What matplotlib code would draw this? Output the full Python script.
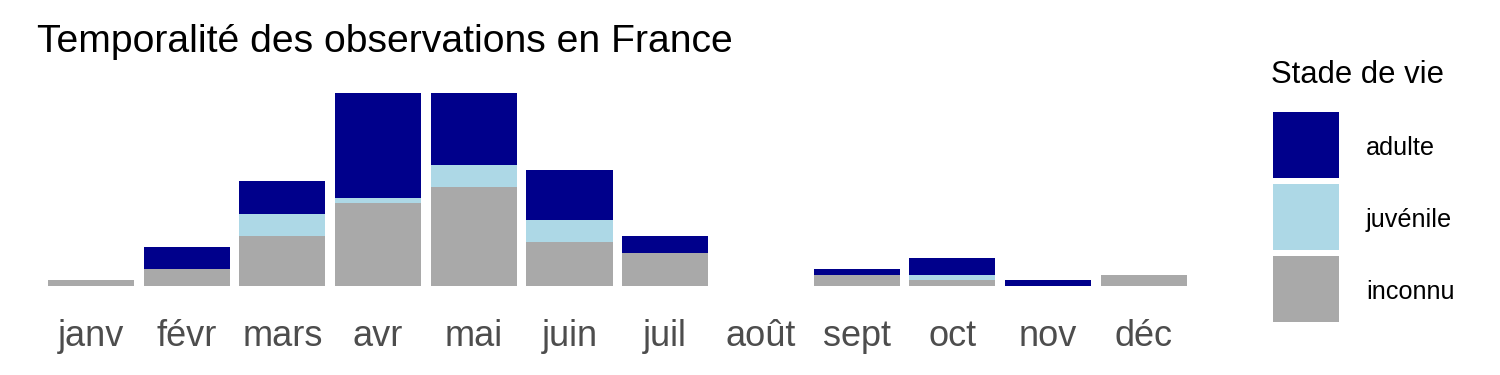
import matplotlib
matplotlib.use("Agg")
import matplotlib.pyplot as plt
from matplotlib.patches import Rectangle

plt.rcParams['font.family'] = ['Liberation Sans', 'DejaVu Sans']

months = ["janv", "févr", "mars", "avr", "mai", "juin",
          "juil", "août", "sept", "oct", "nov", "déc"]
inconnu = [1, 3, 9, 15, 18, 8, 6, 0, 2, 1, 0, 2]
juvenile = [0, 0, 4, 1, 4, 4, 0, 0, 0, 1, 0, 0]
adulte = [0, 4, 6, 19, 13, 9, 3, 0, 1, 3, 1, 0]

stades = ["adulte", "juvénile", "inconnu"]
colors = {"adulte": "#00008B", "juvénile": "#ADD8E6", "inconnu": "#A9A9A9"}

fig = plt.figure(figsize=(15, 3.75), dpi=100)
ax = fig.add_axes([33.6 / 1500, 1 - 286 / 375, (1201.1 - 33.6) / 1500, 193 / 375])

x = list(range(len(months)))
bottom2 = [a + b for a, b in zip(inconnu, juvenile)]
ax.bar(x, inconnu, width=0.9, color=colors["inconnu"])
ax.bar(x, juvenile, width=0.9, bottom=inconnu, color=colors["juvénile"])
ax.bar(x, adulte, width=0.9, bottom=bottom2, color=colors["adulte"])

ax.set_xlim(-0.6, 11.6)
ax.set_ylim(0, 35)
ax.set_xticks(x)
ax.set_xticklabels(months, fontsize=26, color="#4D4D4D")
ax.tick_params(axis="x", length=0, pad=23.5)
ax.set_yticks([])
for s in ax.spines.values():
    s.set_visible(False)

fig.text(37 / 1500, 1 - 52 / 375, "Temporalité des observations en France",
         fontsize=28.2, va="baseline", ha="left")

# legend, drawn by hand in pixel coords
lax = fig.add_axes([0, 0, 1, 1])
lax.set_xlim(0, 1500)
lax.set_ylim(375, 0)
lax.axis("off")
lax.text(1271, 83, "Stade de vie", fontsize=22.3, va="baseline", ha="left")
for i, st in enumerate(stades):
    y0 = 112 + 72 * i
    lax.add_patch(Rectangle((1273, y0), 66, 66, color=colors[st], lw=0))
    lax.text(1366, y0 + 36, st, fontsize=18.2, va="center", ha="left")

fig.savefig("out.png", dpi=100)
